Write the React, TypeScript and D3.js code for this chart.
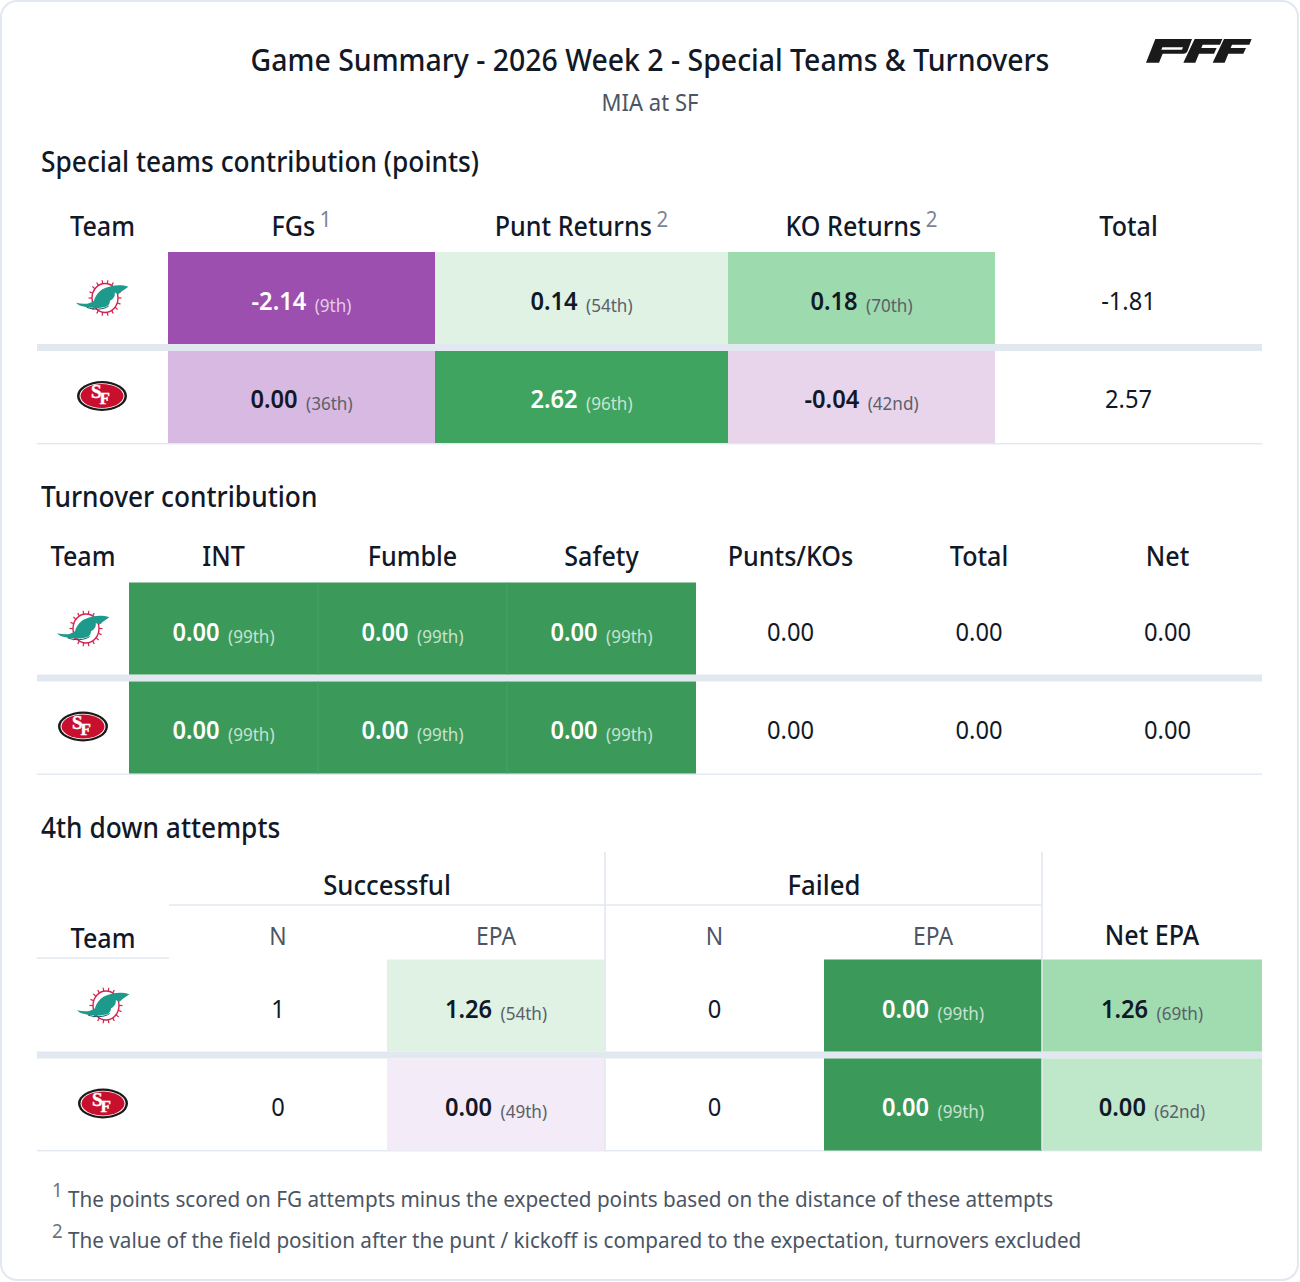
import * as d3 from "d3";

const teams = ["MIA", "SF"];

// special teams table
const stColumns = ["Team", "FGs", "Punt Returns", "KO Returns", "Total"];
const stNotes = ["", "1", "2", "2", ""];
const stFgs = ["-2.14", "0.00"];
const stFgsRank = [9, 36];
const stPunt = ["0.14", "2.62"];
const stPuntRank = [54, 96];
const stKo = ["0.18", "-0.04"];
const stKoRank = [70, 42];
const stTotal = ["-1.81", "2.57"];

// turnover table
const toColumns = ["Team", "INT", "Fumble", "Safety", "Punts/KOs", "Total", "Net"];
const toInt = ["0.00", "0.00"];
const toIntRank = [99, 99];
const toFumble = ["0.00", "0.00"];
const toFumbleRank = [99, 99];
const toSafety = ["0.00", "0.00"];
const toSafetyRank = [99, 99];
const toPunts = ["0.00", "0.00"];
const toTotal = ["0.00", "0.00"];
const toNet = ["0.00", "0.00"];

// 4th down table
const fdColumns = ["Team", "N", "EPA", "N", "EPA", "Net EPA"];
const fdSuccN = ["1", "0"];
const fdSuccEpa = ["1.26", "0.00"];
const fdSuccRank = [54, 49];
const fdFailN = ["0", "0"];
const fdFailEpa = ["0.00", "0.00"];
const fdFailRank = [99, 99];
const fdNet = ["1.26", "0.00"];
const fdNetRank = [69, 62];

const footnotes = [
  "The points scored on FG attempts minus the expected points based on the distance of these attempts",
  "The value of the field position after the punt / kickoff is compared to the expectation, turnovers excluded",
];

const FONT = "'Noto Sans', sans-serif";
const SQUEEZE = 0.93;
const LINE = "#e2e8f0";

const rankColor = d3
  .scaleLinear<string>()
  .domain([9, 36, 42, 49, 54, 62, 69, 96, 99])
  .range(["#9c4fae", "#d8b9e1", "#e8d5ec", "#f3ebf7", "#dff2e4", "#bfe7ca", "#a1dcb1", "#3fa45f", "#3b9a5a"]);

const isDark = (rank: number) => rank < 20 || rank > 90;

function ordinal(n: number) {
  const s = n % 100 >= 11 && n % 100 <= 13 ? "th" : ({ 1: "st", 2: "nd", 3: "rd" } as Record<number, string>)[n % 10] || "th";
  return `(${n}${s})`;
}

function Label({ x, y, size, weight = 400, fill = "#111827", anchor = "middle", children }: any) {
  return (
    <text
      transform={`translate(${x},${y}) scale(${SQUEEZE},1)`}
      fontFamily={FONT}
      fontSize={size}
      fontWeight={weight}
      fill={fill}
      textAnchor={anchor}
    >
      {children}
    </text>
  );
}

function Dolphin({ x, y }: { x: number; y: number }) {
  const rays = d3.range(0, 360, 20);
  return (
    <g transform={`translate(${x},${y})`}>
      <g transform="translate(3,0)">
        {rays.map((a) => {
          const r = (a * Math.PI) / 180;
          return (
            <line
              key={a}
              x1={Math.cos(r) * 13}
              y1={Math.sin(r) * 14}
              x2={Math.cos(r) * 16.5}
              y2={Math.sin(r) * 18}
              stroke="#d4234f"
              strokeWidth={1.2}
            />
          );
        })}
        <ellipse rx={13} ry={14.5} fill="#fff" stroke="#d4234f" strokeWidth={1.4} />
      </g>
      <g transform="scale(0.3333) translate(-156,-84)">
        <path
          d="M78 98 C100 104 122 102 132 92 C138 74 150 58 172 52 C192 44 215 44 235 50 C226 58 214 62 206 72 C200 70 196 68 194 68 C196 76 192 86 180 92 C180 100 176 104 172 108 C150 118 118 114 94 108 C88 106 82 102 78 98 Z"
          fill="#1d9a8c"
        />
        <path d="M110 112 C130 120 160 120 176 108" fill="none" stroke="#0f5f66" strokeWidth={3} />
      </g>
    </g>
  );
}

function Niners({ x, y }: { x: number; y: number }) {
  return (
    <g transform={`translate(${x},${y})`}>
      <ellipse rx={25} ry={15} fill="#1a1a1a" />
      <ellipse rx={22.5} ry={12.8} fill="#fff" />
      <ellipse rx={21.5} ry={12} fill="#c8102e" />
      <text
        x={-11}
        y={2}
        fontFamily="'Liberation Serif', serif"
        fontWeight={700}
        fontSize={19}
        fill="#fff"
        stroke="#fff"
        strokeWidth={0.4}
      >
        S
        <tspan dx={-2} dy={6} fontSize={17}>
          F
        </tspan>
      </text>
    </g>
  );
}

function PffLogo() {
  return (
    <g transform="translate(1120,20) scale(0.3333)" fill="#1a1a1a">
      <path d="M106 57 H216 L203 92 C201 98 196 101 190 101 H128 L117 128 H78 Z M127 82 L124 89 H186 L189 82 Z" fillRule="evenodd" />
      <path d="M224 57 H307 L300 74 H248 L244 84 H290 L282 101 H237 L226 128 H190 Z" />
      <path d="M312 57 H395 L388 74 H336 L332 84 H378 L370 101 H325 L314 128 H278 Z" />
    </g>
  );
}

function Logo({ team, x, y }: { team: string; x: number; y: number }) {
  return team === "MIA" ? <Dolphin x={x} y={y} /> : <Niners x={x} y={y} />;
}

function RankCell({ x0, x1, y0, y1, value, rank, ty }: any) {
  const dark = isDark(rank);
  return (
    <g>
      <rect x={x0} y={y0} width={x1 - x0} height={y1 - y0} fill={rankColor(rank)} />
      <Label x={(x0 + x1) / 2} y={ty} size={25.5} weight={600} fill={dark ? "#fff" : "#111827"}>
        {value}
        <tspan dx={9} dy={2} fontSize={18.4} fontWeight={400} fill={dark ? "rgba(255,255,255,0.72)" : "#5b6068"}>
          {ordinal(rank)}
        </tspan>
      </Label>
    </g>
  );
}

// rows share one layout: two rows split by a thick rule
function rowBands(top: number) {
  return [
    { y0: top, y1: top + 92, ty: top + 58, logo: top + 46 },
    { y0: top + 99, y1: top + 191, ty: top + 156, logo: top + 144 },
  ];
}

function Rules({ top, x0, x1 }: { top: number; x0: number; x1: number }) {
  return (
    <g>
      <rect x={x0} y={top + 92} width={x1 - x0} height={7} fill={LINE} />
      <rect x={x0} y={top + 191} width={x1 - x0} height={1.4} fill={LINE} />
    </g>
  );
}

function SpecialTeams() {
  const top = 252;
  const x = d3.scaleLinear().domain(d3.range(6)).range([37, 168, 435, 728, 995, 1262]);
  const bands = rowBands(top);
  const metrics = [
    { col: 1, values: stFgs, ranks: stFgsRank },
    { col: 2, values: stPunt, ranks: stPuntRank },
    { col: 3, values: stKo, ranks: stKoRank },
  ];
  return (
    <g>
      <Label x={41} y={171.5} size={28.3} weight={500} anchor="start">
        Special teams contribution (points)
      </Label>
      {stColumns.map((c, i) => (
        <Label key={c} x={(x(i) + x(i + 1)) / 2} y={236} size={27} weight={500}>
          {c}
          {stNotes[i] && (
            <tspan dx={5} dy={-9} fontSize={22} fontWeight={400} fill="#7b8594">
              {stNotes[i]}
            </tspan>
          )}
        </Label>
      ))}
      <Rules top={top} x0={37} x1={1262} />
      {teams.map((t, r) => (
        <g key={t}>
          <Logo team={t} x={102} y={bands[r].logo} />
          {metrics.map((m) => (
            <RankCell key={m.col} x0={x(m.col)} x1={x(m.col + 1)} y0={bands[r].y0} y1={bands[r].y1} ty={bands[r].ty} value={m.values[r]} rank={m.ranks[r]} />
          ))}
          <Label x={(x(4) + x(5)) / 2} y={bands[r].ty} size={25.5}>
            {stTotal[r]}
          </Label>
        </g>
      ))}
    </g>
  );
}

function Turnovers() {
  const top = 582.5;
  const x = d3.scaleLinear().domain(d3.range(8)).range([37, 129, 318, 507, 696, 885, 1073, 1262]);
  const bands = rowBands(top);
  const metrics = [
    { col: 1, values: toInt, ranks: toIntRank },
    { col: 2, values: toFumble, ranks: toFumbleRank },
    { col: 3, values: toSafety, ranks: toSafetyRank },
  ];
  const plain = [
    { col: 4, values: toPunts },
    { col: 5, values: toTotal },
    { col: 6, values: toNet },
  ];
  return (
    <g>
      <Label x={41} y={506.5} size={28.3} weight={500} anchor="start">
        Turnover contribution
      </Label>
      {toColumns.map((c, i) => (
        <Label key={c} x={(x(i) + x(i + 1)) / 2} y={566} size={27} weight={500}>
          {c}
        </Label>
      ))}
      <Rules top={top} x0={37} x1={1262} />
      {teams.map((t, r) => (
        <g key={t}>
          <Logo team={t} x={83} y={bands[r].logo} />
          {metrics.map((m) => (
            <RankCell key={m.col} x0={x(m.col)} x1={x(m.col + 1)} y0={bands[r].y0} y1={bands[r].y1} ty={bands[r].ty} value={m.values[r]} rank={m.ranks[r]} />
          ))}
          {[2, 3].map((c) => (
            <line key={c} x1={x(c)} x2={x(c)} y1={bands[r].y0} y2={bands[r].y1} stroke="#46a466" strokeWidth={1} />
          ))}
          {plain.map((m) => (
            <Label key={m.col} x={(x(m.col) + x(m.col + 1)) / 2} y={bands[r].ty} size={25.5}>
              {m.values[r]}
            </Label>
          ))}
        </g>
      ))}
    </g>
  );
}

function FourthDown() {
  const top = 959.5;
  const x = d3.scaleLinear().domain(d3.range(7)).range([37, 169, 387, 605, 824, 1042, 1262]);
  const bands = rowBands(top);
  const mid = (i: number) => (x(i) + x(i + 1)) / 2;
  const subColor = "#4b5563";
  return (
    <g>
      <Label x={41} y={837.5} size={28.3} weight={500} anchor="start">
        4th down attempts
      </Label>
      <Label x={387} y={895} size={27.7} weight={500}>
        Successful
      </Label>
      <Label x={824} y={895} size={27.7} weight={500}>
        Failed
      </Label>
      <Label x={mid(0)} y={948} size={27} weight={500}>
        {fdColumns[0]}
      </Label>
      {[1, 2, 3, 4].map((i) => (
        <Label key={i} x={mid(i)} y={945} size={24.6} fill={subColor}>
          {fdColumns[i]}
        </Label>
      ))}
      <Label x={mid(5)} y={945} size={27} weight={500}>
        {fdColumns[5]}
      </Label>
      <rect x={37} y={top + 92} width={1225} height={7} fill={LINE} />
      <rect x={37} y={top + 190.5} width={1225} height={1.4} fill={LINE} />
      {teams.map((t, r) => (
        <g key={t}>
          <Logo team={t} x={103} y={bands[r].logo} />
          <Label x={mid(1)} y={bands[r].ty} size={25.5}>
            {fdSuccN[r]}
          </Label>
          <RankCell x0={x(2)} x1={x(3)} y0={bands[r].y0} y1={bands[r].y1} ty={bands[r].ty} value={fdSuccEpa[r]} rank={fdSuccRank[r]} />
          <Label x={mid(3)} y={bands[r].ty} size={25.5}>
            {fdFailN[r]}
          </Label>
          <RankCell x0={x(4)} x1={x(5)} y0={bands[r].y0} y1={bands[r].y1} ty={bands[r].ty} value={fdFailEpa[r]} rank={fdFailRank[r]} />
          <RankCell x0={x(5)} x1={x(6)} y0={bands[r].y0} y1={bands[r].y1} ty={bands[r].ty} value={fdNet[r]} rank={fdNetRank[r]} />
        </g>
      ))}
      <line x1={x(3)} x2={x(3)} y1={852} y2={1150} stroke={LINE} strokeWidth={1.6} />
      <line x1={x(5)} x2={x(5)} y1={852} y2={1150} stroke={LINE} strokeWidth={1.6} />
      <line x1={169} x2={1042} y1={905} y2={905} stroke={LINE} strokeWidth={1.6} />
      <line x1={37} x2={169} y1={958} y2={958} stroke={LINE} strokeWidth={1.6} />
    </g>
  );
}

export default function App() {
  return (
    <svg width={1300} height={1282} style={{ position: "absolute", left: 0, top: 0, background: "#fff" }}>
      <rect x={1} y={1} width={1297} height={1279} rx={16} fill="#fff" stroke={LINE} strokeWidth={2} />
      <Label x={650} y={71} size={30.6} weight={500}>
        Game Summary - 2026 Week 2 - Special Teams &amp; Turnovers
      </Label>
      <Label x={650} y={111} size={23.7} fill="#4b5563">
        MIA at SF
      </Label>
      <PffLogo />
      <SpecialTeams />
      <Turnovers />
      <FourthDown />
      {footnotes.map((f, i) => (
        <g key={i}>
          <Label x={52} y={[1197, 1238][i]} size={20} fill="#6b7280" anchor="start">
            {i + 1}
          </Label>
          <Label x={68} y={[1207, 1248][i]} size={22.25} fill="#4b5563" anchor="start">
            {f}
          </Label>
        </g>
      ))}
    </svg>
  );
}
